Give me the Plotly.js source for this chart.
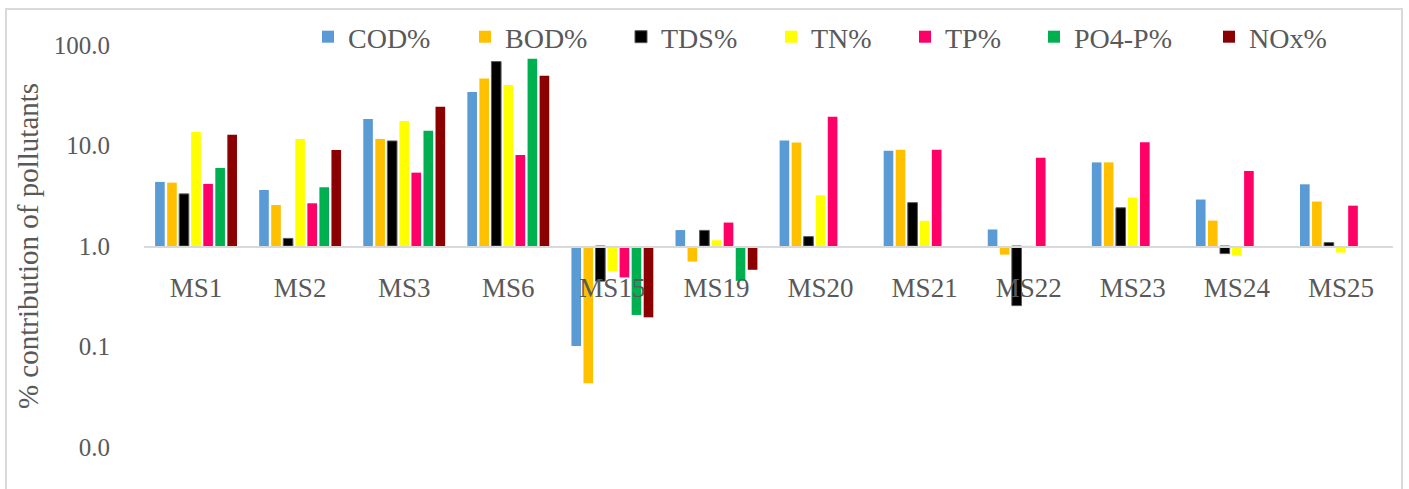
<!DOCTYPE html>
<html>
<head>
<meta charset="utf-8">
<script src="https://cdn.plot.ly/plotly-3.0.1.min.js"></script>
<style>
  html, body { margin: 0; padding: 0; background: #ffffff; }
  #wrap { position: relative; width: 1409px; height: 489px; overflow: hidden; }
  #frame { position: absolute; left: 5px; top: 8px; width: 1398px; height: 500px;
           border: 2px solid #d9d9d9; box-sizing: border-box; pointer-events: none; }
  #chart { position: absolute; left: 0; top: 0; width: 1409px; height: 489px; }
</style>
</head>
<body>
<div id="wrap">
  <div id="chart"></div>
  <div id="frame"></div>
</div>
<script>
// Monitoring stations
const stations = ['MS1', 'MS2', 'MS3', 'MS6', 'MS15', 'MS19', 'MS20', 'MS21', 'MS22', 'MS23', 'MS24', 'MS25'];

// % contribution of each pollutant per station (null = not reported)
const codPct  = [4.34, 3.61, 18.3, 34.0, 0.101, 1.44, 11.2, 8.87, 1.46, 6.79, 2.90, 4.11];
const bodPct  = [4.27, 2.56, 11.6, 46.4, 0.043, 0.70, 10.7, 9.08, 0.82, 6.79, 1.79, 2.77];
const tdsPct  = [3.30, 1.19, 11.1, 68.4, 0.447, 1.43, 1.24, 2.70, 0.255, 2.40, 0.84, 1.08];
const tnPct   = [13.6, 11.6, 17.5, 39.9, 0.562, 1.14, 3.19, 1.78, 1.01, 3.03, 0.80, 0.86];
const tpPct   = [4.15, 2.66, 5.37, 8.05, 0.487, 1.71, 19.3, 9.08, 7.57, 10.8, 5.58, 2.52];
const po4Pct  = [5.98, 3.84, 14.0, 72.8, 0.206, 0.45, null, null, null, null, null, null];
const noxPct  = [12.8, 9.02, 24.3, 49.3, 0.195, 0.58, null, null, null, null, null, null];

// Y-axis tick values and their printed labels
const yTickVals = [0.01, 0.1, 1, 10, 100];
const yTickText = ['0.0', '0.1', '1.0', '10.0', '100.0'];

const series = [
  { name: 'COD%',   values: codPct, color: '#5B9BD5', legendLeft: 322 },
  { name: 'BOD%',   values: bodPct, color: '#FFC000', legendLeft: 479 },
  { name: 'TDS%',   values: tdsPct, color: '#000000', legendLeft: 635 },
  { name: 'TN%',    values: tnPct,  color: '#FFFF00', legendLeft: 785 },
  { name: 'TP%',    values: tpPct,  color: '#FF0066', legendLeft: 919 },
  { name: 'PO4-P%', values: po4Pct, color: '#00B050', legendLeft: 1048 },
  { name: 'NOx%',   values: noxPct, color: '#8B0000', legendLeft: 1223 }
];

const W = 1409, H = 489;
const textColor = '#595959';
const fontFamily = '"Liberation Serif", "DejaVu Serif", serif';

// Bars grow up or down from the 1.0 line on the log scale
const BASE = 1;
const traces = series.map((s, i) => ({
  type: 'bar',
  name: s.name,
  x: stations,
  y: s.values.map(v => (v == null ? null : v - BASE)),
  base: BASE,
  legend: i === 0 ? 'legend' : 'legend' + (i + 1),
  marker: {
    color: s.color,
    line: { color: s.name === 'TDS%' ? '#595959' : s.color, width: s.name === 'TDS%' ? 1 : 0 }
  },
  hovertemplate: s.name + ' %{x}: %{customdata}<extra></extra>',
  customdata: s.values
}));

const layout = {
  width: W,
  height: H,
  margin: { l: 144, r: 16, t: 45, b: 42, autoexpand: false },
  paper_bgcolor: 'rgba(0,0,0,0)',
  plot_bgcolor: 'rgba(0,0,0,0)',
  font: { family: fontFamily, color: textColor },
  barmode: 'group',
  bargap: 0.19,
  bargroupgap: 0.2,
  xaxis: {
    type: 'category',
    anchor: 'free',
    position: 0.5,
    showline: true,
    linecolor: '#d9d9d9',
    linewidth: 1.5,
    showgrid: false,
    zeroline: false,
    ticks: '',
    ticklabelstandoff: 17,
    automargin: false,
    tickfont: { family: fontFamily, size: 27, color: textColor }
  },
  yaxis: {
    type: 'log',
    range: [-2, 2],
    tickvals: yTickVals,
    ticktext: yTickText,
    showline: false,
    showgrid: false,
    zeroline: false,
    ticks: '',
    ticklabelstandoff: 33,
    automargin: false,
    tickfont: { family: fontFamily, size: 25, color: textColor },
    title: {
      text: '% contribution of pollutants',
      standoff: 6,
      font: { family: fontFamily, size: 29, color: textColor }
    }
  },
  showlegend: true
};

// One single-entry legend per pollutant, laid out in a row above the bars
series.forEach((s, i) => {
  const key = i === 0 ? 'legend' : 'legend' + (i + 1);
  layout[key] = {
    xref: 'container',
    yref: 'container',
    x: (s.legendLeft - 14) / W,
    y: 1 - 37 / H,
    xanchor: 'left',
    yanchor: 'middle',
    orientation: 'h',
    bgcolor: 'rgba(0,0,0,0)',
    borderwidth: 0,
    font: { family: fontFamily, size: 28, color: textColor }
  };
});

Plotly.newPlot('chart', traces, layout, { displayModeBar: false, staticPlot: true });
</script>
</body>
</html>
